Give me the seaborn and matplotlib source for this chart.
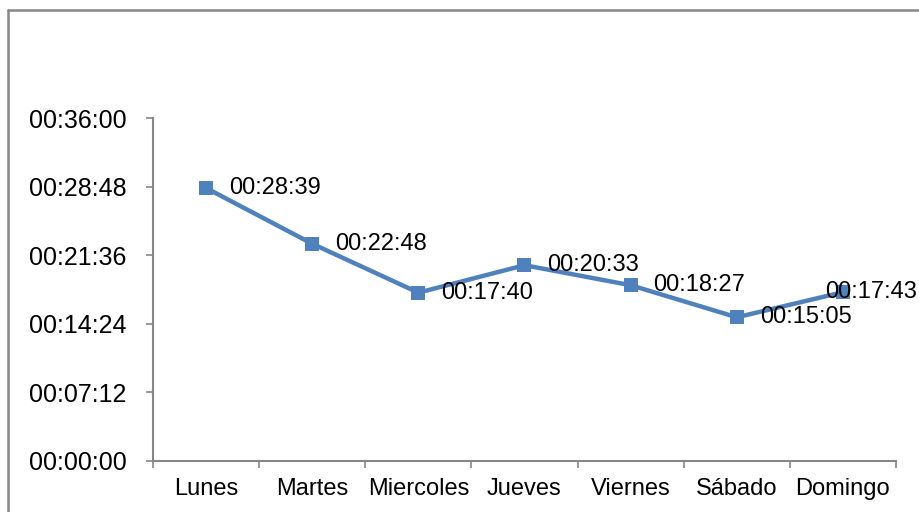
import matplotlib
matplotlib.use("Agg")
import matplotlib.pyplot as plt
import seaborn as sns
import pandas as pd
from matplotlib.ticker import FixedLocator, FuncFormatter
from matplotlib.lines import Line2D

dias = ['Lunes', 'Martes', 'Miercoles', 'Jueves', 'Viernes', 'Sábado', 'Domingo']
tiempos = ['00:28:39', '00:22:48', '00:17:40', '00:20:33', '00:18:27', '00:15:05', '00:17:43']
y_ticks_seg = [0, 432, 864, 1296, 1728, 2160]


def a_segundos(t):
    h, m, s = [int(p) for p in t.split(':')]
    return h * 3600 + m * 60 + s


def fmt_hms(v, pos=None):
    v = int(round(v))
    return f"{v // 3600:02d}:{(v % 3600) // 60:02d}:{v % 60:02d}"


df = pd.DataFrame({'dia': dias, 'seg': [a_segundos(t) for t in tiempos]})
df['x'] = range(len(df))

sns.set_style('white')
plt.rcParams['font.family'] = ['Liberation Sans', 'DejaVu Sans']

fig = plt.figure(figsize=(9.2, 5.12), dpi=100)
ax = fig.add_axes([153 / 920, 1 - 461 / 512, (896 - 153) / 920, (461 - 118) / 512])

azul = '#4F81BD'
sns.lineplot(data=df, x='x', y='seg', ax=ax, color=azul, linewidth=3.2,
             marker='s', markersize=10, markeredgecolor=azul, markeredgewidth=0)

# etiquetas de datos a la derecha de cada punto
for i, row in df.iterrows():
    dx = 16.5 if i < len(df) - 1 else -13
    ax.annotate(tiempos[i], (row['x'], row['seg']), xytext=(dx, 0),
                textcoords='offset points', ha='left', va='center',
                fontsize=17, color='black', annotation_clip=False)

ax.set_xlim(-0.5, len(df) - 0.5)
ax.set_ylim(0, 2160)
ax.yaxis.set_major_locator(FixedLocator(y_ticks_seg))
ax.yaxis.set_major_formatter(FuncFormatter(fmt_hms))
ax.set_xticks(df['x'])
ax.set_xticklabels(dias)
ax.set_xticks([i - 0.5 for i in range(len(df) + 1)], minor=True)
ax.set_xlabel('')
ax.set_ylabel('')

gris = '#868686'
for s in ['top', 'right']:
    ax.spines[s].set_visible(False)
for s in ['left', 'bottom']:
    ax.spines[s].set_color(gris)
    ax.spines[s].set_linewidth(1.5)

ax.tick_params(axis='y', which='major', direction='out', length=5, width=1.2,
               color=gris, labelsize=18, labelcolor='black', pad=14, left=True)
ax.tick_params(axis='x', which='major', length=0, labelsize=17, labelcolor='black', pad=12)
ax.tick_params(axis='x', which='minor', direction='out', length=5, width=1.2,
               color=gris, bottom=True)

# marco exterior del gráfico
fig.add_artist(Line2D([8 / 920, 1], [1 - 10 / 512, 1 - 10 / 512], color=gris, linewidth=1.8,
                      transform=fig.transFigure))
fig.add_artist(Line2D([8 / 920, 8 / 920], [0, 1 - 10 / 512], color=gris, linewidth=1.8,
                      transform=fig.transFigure))

fig.savefig('out.png', dpi=100)
